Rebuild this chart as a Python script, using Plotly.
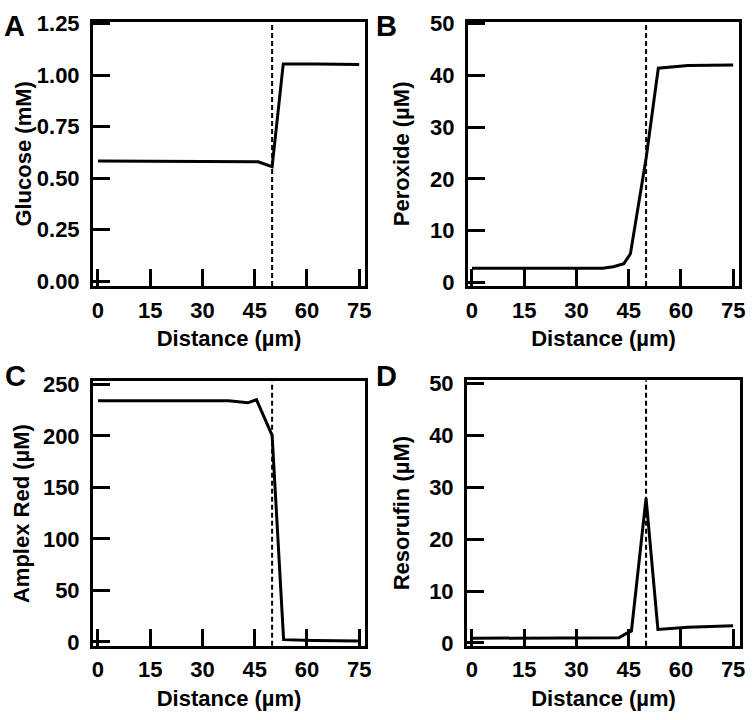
import plotly.graph_objects as go

# ---------------- data ----------------
glucose_x = [0, 37.5, 46.0, 50.0, 53.2, 62.5, 75]
glucose_y = [0.583, 0.583, 0.580, 0.556, 1.055, 1.054, 1.052]

peroxide_x = [0, 37.5, 40.6, 43.6, 45.5, 50.0, 53.5, 62.0, 75]
peroxide_y = [2.7, 2.7, 3.0, 3.6, 5.5, 24.0, 41.4, 41.9, 42.0]

amplex_x = [0, 37.5, 43.0, 45.5, 50.0, 53.3, 62.0, 75]
amplex_y = [234, 234, 232, 235, 200.5, 2.2, 1.3, 0.8]

resorufin_x = [0, 42.2, 44.0, 45.8, 50.0, 53.4, 62.0, 75]
resorufin_y = [0.9, 1.0, 1.7, 2.3, 27.9, 2.6, 3.0, 3.3]

boundary_x = 50

x_ticks = [0, 15, 30, 45, 60, 75]
glucose_ticks = [0, 0.25, 0.5, 0.75, 1.0, 1.25]
glucose_ticklabels = ["0.00", "0.25", "0.50", "0.75", "1.00", "1.25"]
peroxide_ticks = [0, 10, 20, 30, 40, 50]
amplex_ticks = [0, 50, 100, 150, 200, 250]
resorufin_ticks = [0, 10, 20, 30, 40, 50]

x_title = "Distance (µm)"
y_titles = ["Glucose (mM)", "Peroxide (µM)", "Amplex Red (µM)", "Resorufin (µM)"]
panel_letters = ["A", "B", "C", "D"]

# ---------------- figure ----------------
W, H = 754, 720
FONT = "Liberation Sans, Arial, Helvetica, sans-serif"
tickfont = dict(family=FONT, size=22, color="black", weight="bold")
titlefont = dict(family=FONT, size=22, color="black", weight="bold")

fig = go.Figure()

series = [
    (glucose_x, glucose_y, "x", "y"),
    (peroxide_x, peroxide_y, "x2", "y2"),
    (amplex_x, amplex_y, "x3", "y3"),
    (resorufin_x, resorufin_y, "x4", "y4"),
]
for xs, ys, xa, ya in series:
    fig.add_trace(go.Scatter(x=xs, y=ys, mode="lines", xaxis=xa, yaxis=ya,
                             line=dict(color="black", width=3), showlegend=False,
                             hoverinfo="skip"))

# pixel boxes (left, right, top, bottom)
boxes = [(92, 367, 12, 284), (471, 745, 12, 284), (92, 367, 382, 654), (470, 746, 381, 654)]
xranges = [[-1.42, 76.7], [-1.14, 76.7], [-1.42, 76.7], [-1.42, 77.0]]
yranges = [[-0.024, 1.26], [-0.75, 50.4], [-3.8, 252.8], [-0.56, 50.56]]
yticks = [glucose_ticks, peroxide_ticks, amplex_ticks, resorufin_ticks]
yticklabels = [glucose_ticklabels, [str(v) for v in peroxide_ticks],
               [str(v) for v in amplex_ticks], [str(v) for v in resorufin_ticks]]
ytitle_standoff = [0, 15, 8, 14]

axis_common = dict(showgrid=False, zeroline=False, showline=True, linewidth=3,
                   linecolor="black", mirror=True, ticks="inside", ticklen=17,
                   tickwidth=3, tickcolor="black", tickfont=tickfont)

layout = {}
for i, (l, r, t, b) in enumerate(boxes):
    sfx = "" if i == 0 else str(i + 1)
    xdom = [l / W, r / W]
    ydom = [1 - b / H, 1 - t / H]
    layout["xaxis" + sfx] = dict(
        domain=xdom, range=xranges[i], anchor="y" + sfx,
        tickmode="array", tickvals=x_ticks, ticktext=[str(v) for v in x_ticks],
        title=dict(text=x_title, font=titlefont, standoff=10),
        ticklabelstandoff=2,
        **axis_common)
    layout["yaxis" + sfx] = dict(
        domain=ydom, range=yranges[i], anchor="x" + sfx,
        tickmode="array", tickvals=yticks[i], ticktext=yticklabels[i],
        title=dict(text=y_titles[i], font=titlefont, standoff=ytitle_standoff[i]),
        ticklabelstandoff=6,
        **axis_common)

fig.update_layout(**layout)

shapes = []
annotations = []
letter_pos = [(12.5, 16), (389, 16), (14, 376), (389, 376)]
for i in range(4):
    sfx = "" if i == 0 else str(i + 1)
    shapes.append(dict(type="line", xref="x" + sfx, yref="y" + sfx + " domain",
                       x0=boundary_x, x1=boundary_x, y0=0, y1=1,
                       line=dict(color="black", width=2, dash="5px,3px")))
    lx, ly = letter_pos[i]
    annotations.append(dict(text=panel_letters[i], xref="paper", yref="paper",
                            x=lx / W, y=1 - ly / H,
                            xanchor="center", yanchor="middle", showarrow=False,
                            font=dict(family=FONT, size=29, color="black", weight="bold")))

fig.update_layout(width=W, height=H, margin=dict(l=0, r=0, t=0, b=0),
                  paper_bgcolor="white", plot_bgcolor="white",
                  shapes=shapes, annotations=annotations)

fig.write_html("out.html", config={"displayModeBar": False},
               post_script="document.body.style.margin='0';document.body.style.overflow='hidden';")
